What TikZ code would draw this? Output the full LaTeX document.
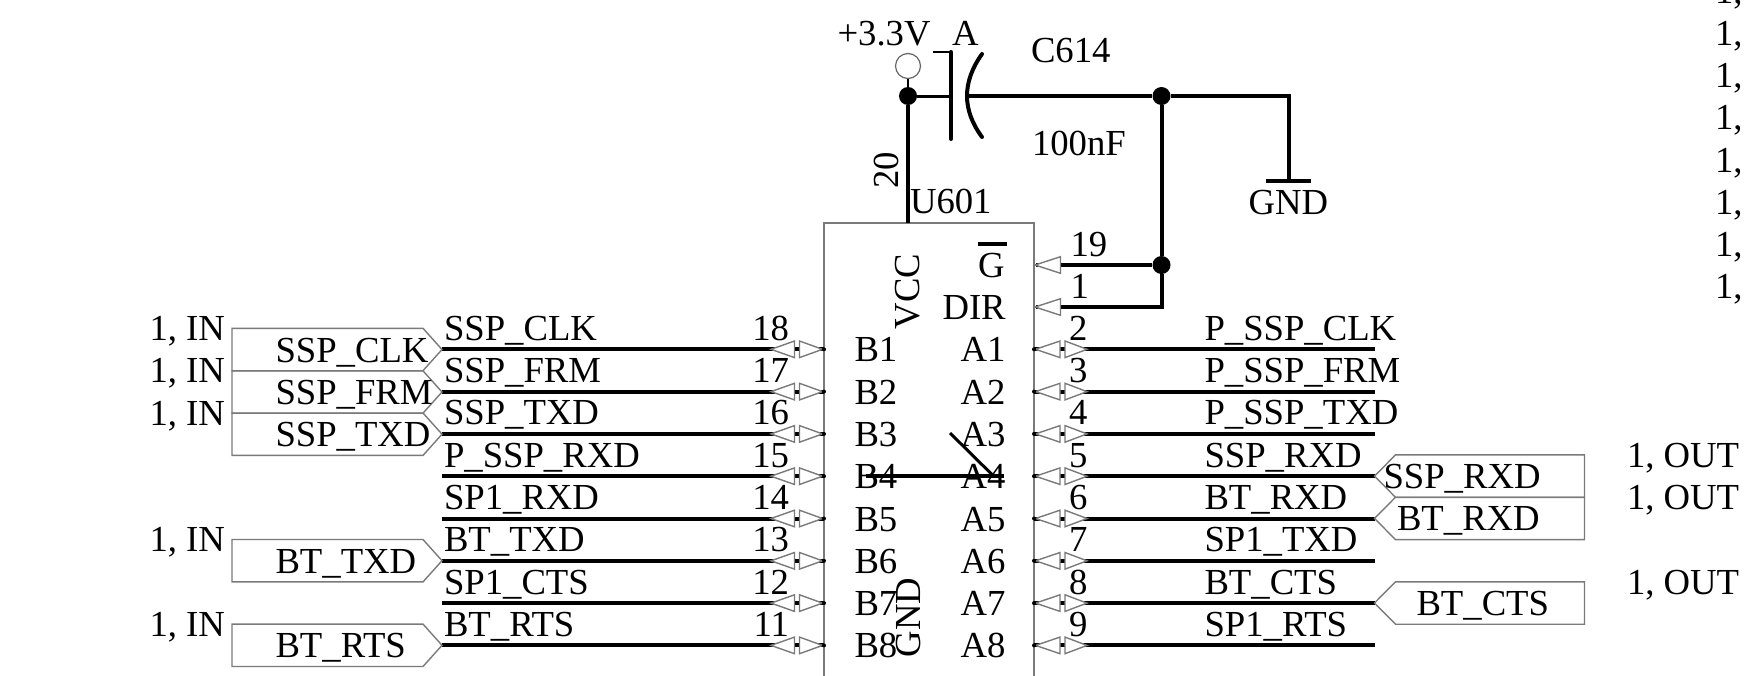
\documentclass[tikz,border=0pt]{standalone}
\usepackage{fontspec}
\setmainfont{Liberation Serif}
\tikzset{
  lbl/.style={anchor=base west,inner sep=0pt,outer sep=0pt,text=black,font=\fontsize{36.7}{36.7}\selectfont},
  rlbl/.style={lbl,rotate=90},
  wire/.style={line width=4pt,black},
  thinwire/.style={line width=2.2pt,black},
  gray line/.style={line width=1.4pt,draw=black!52},
  pintri/.style={gray line,fill=white,line join=miter},
  jn/.style={circle,fill=black,inner sep=0pt,minimum size=18pt},
  tipdot/.style={circle,fill=black,inner sep=0pt,minimum size=4pt},
}
% left-hand port: #1 name, #2 row y, #3 text
\newcommand{\portL}[3]{%
  \draw[gray line] (232,#2-21.2) -- (423,#2-21.2) -- (442,#2) -- (423,#2+21.2) -- (232,#2+21.2) -- cycle;
  \node[lbl] (#1) at (275.5,#2+12.5) {#3};}
% right-hand port
\newcommand{\portR}[4]{%
  \draw[gray line] (1584.5,#2-21.2) -- (1395.5,#2-21.2) -- (1374.5,#2) -- (1395.5,#2+21.2) -- (1584.5,#2+21.2) -- cycle;
  \node[lbl] (#1) at (#4,#2+12.5) {#3};}
\begin{document}
\begin{tikzpicture}[x=1pt,y=-1pt]
\useasboundingbox (0,0) rectangle (1746,675);
% IC body
\node[draw=black!52,line width=1.4pt,fill=none,minimum width=210pt,minimum height=520pt,anchor=north west,inner sep=0pt,outer sep=0pt] (body) at (824,223) {};

% pins and wires
\foreach \i/\ll/\rl/\ln/\rn in {
 0/SSP\_CLK/P\_SSP\_CLK/18/2,
 1/SSP\_FRM/P\_SSP\_FRM/17/3,
 2/SSP\_TXD/P\_SSP\_TXD/16/4,
 3/P\_SSP\_RXD/SSP\_RXD/15/5,
 4/SP1\_RXD/BT\_RXD/14/6,
 5/BT\_TXD/SP1\_TXD/13/7,
 6/SP1\_CTS/BT\_CTS/12/8,
 7/BT\_RTS/SP1\_RTS/11/9}{
  \pgfmathsetmacro{\yy}{349.3+42.3*\i}
  \pgfmathtruncatemacro{\bn}{\i+1}
  \coordinate (lw\i) at (442,\yy);
  \coordinate (lp\i) at (824,\yy);
  \coordinate (rw\i) at (1374.5,\yy);
  \coordinate (rp\i) at (1034,\yy);
  \draw[wire] (lw\i) -- (lp\i);
  \draw[wire] (rw\i) -- (rp\i);
  \draw[pintri] (771,\yy) -- (794.5,\yy-8.3) -- (794.5,\yy+8.3) -- cycle;
  \draw[pintri] (799.5,\yy-8.3) -- (822.5,\yy) -- (799.5,\yy+8.3) -- cycle;
  \draw[pintri] (1035.5,\yy) -- (1060,\yy-8.3) -- (1060,\yy+8.3) -- cycle;
  \draw[pintri] (1065,\yy-8.3) -- (1087,\yy) -- (1065,\yy+8.3) -- cycle;
  \node[tipdot] (ld\i) at (lp\i) {};
  \node[tipdot] (rd\i) at (rp\i) {};
  \node[lbl] (ln\i) at (444,\yy-9) {\ll};
  \node[lbl] (rl\i) at (1204.5,\yy-9) {\rl};
  \node[lbl,anchor=base east] (np\i) at (789,\yy-9) {\ln};
  \node[lbl] (rnp\i) at (1069,\yy-9) {\rn};
  \node[lbl] (b\i) at (854.5,\yy+12.5) {B\bn};
  \node[lbl] (a\i) at (960.5,\yy+12.5) {A\bn};
}

% left ports
\portL{pa}{349.5}{SSP\_CLK}
\portL{pb}{392}{SSP\_FRM}
\portL{pc}{434.2}{SSP\_TXD}
\portL{pd}{560.7}{BT\_TXD}
\portL{pe}{645.3}{BT\_RTS}
% right ports
\portR{qa}{476.1}{SSP\_RXD}{1383.5}
\portR{qb}{518.4}{BT\_RXD}{1397}
\portR{qc}{603}{BT\_CTS}{1416.5}

% port side texts
\foreach \n/\y in {a/340,b/382.5,c/425,d/551,e/636}
  \node[lbl] (in\n) at (149.5,\y) {1, IN};
\foreach \n/\y in {a/467,b/509,c/594.5}
  \node[lbl] (out\n) at (1627,\y) {1, OUT};
\foreach \n/\y in {0/3,1/45,2/87,3/129,4/172,5/214,6/256,7/298}
  \node[lbl] (one\n) at (1715,\y) {1,};

% rotated and body labels
\node[rlbl] (t20) at (898,188.5) {20};
\node[rlbl] (vcc) at (919.6,329) {VCC};
\node[rlbl] (gndpin) at (920,657) {GND};
\node[lbl] (u601) at (910,213.5) {U601};
\node[lbl] (gpin) at (978,277) {G};
\draw[line width=3.5pt,black] (977.5,244) -- (1007,244);
\node[lbl] (dir) at (942.5,319.5) {DIR};

% top nets
\node[lbl] (v33) at (837.5,45) {+3.3V};
\node[lbl] (atxt) at (952,45) {A};
\node[lbl] (c614) at (1031,62) {C614};
\node[lbl] (nf) at (1032,155) {100nF};
\node[lbl] (gndt) at (1248.5,214) {GND};
\node[lbl] (p19) at (1070.5,256) {19};
\node[lbl] (p1) at (1070.5,298) {1};

\node[circle,draw=black!60,line width=1.2pt,fill=white,minimum size=25pt,inner sep=0pt] (vp) at (908,66) {};
\node[jn] (j1) at (908,96) {};
\node[jn] (j2) at (1161.5,96) {};
\node[jn] (j3) at (1161.5,265) {};
\coordinate (vccpin) at (908,223);
\coordinate (capa) at (951,96);
\coordinate (capb) at (967,96);
\coordinate (gcorner) at (1288.5,96);
\coordinate (gbar) at (1288.5,181);
\coordinate (gpinend) at (1036,265);
\coordinate (dirend) at (1036,307);
\coordinate (dircorner) at (1161.5,307);

\draw[thinwire] (vp) -- (j1);
\draw[wire] (j1) -- (vccpin);
\draw[line width=3pt,black] (j1) -- (capa);
\draw[wire,line cap=round] (951,52) -- (951,139);
\draw[line width=1.4pt,black] (933,52) -- (951,52);
\draw[wire,line cap=round] (982,54) .. controls (962,82) and (962,110) .. (982,137);
\draw[wire] (capb) -- (j2) -- (gcorner) -- (gbar);
\draw[wire] (1266,181) -- (1311,181);
\draw[wire] (j2) -- (j3) -- (dircorner) -- (dirend);
\draw[wire] (j3) -- (gpinend);
\draw[pintri] (1035,265) -- (1060.5,256.7) -- (1060.5,273.3) -- cycle;
\draw[pintri] (1035,307) -- (1060.5,298.7) -- (1060.5,315.3) -- cycle;

% bus slash across B4-A4
\draw[wire] (866,476) -- (1004,476);
\draw[line width=3pt,black] (950,433) -- (994,476.5);
\end{tikzpicture}
\end{document}
